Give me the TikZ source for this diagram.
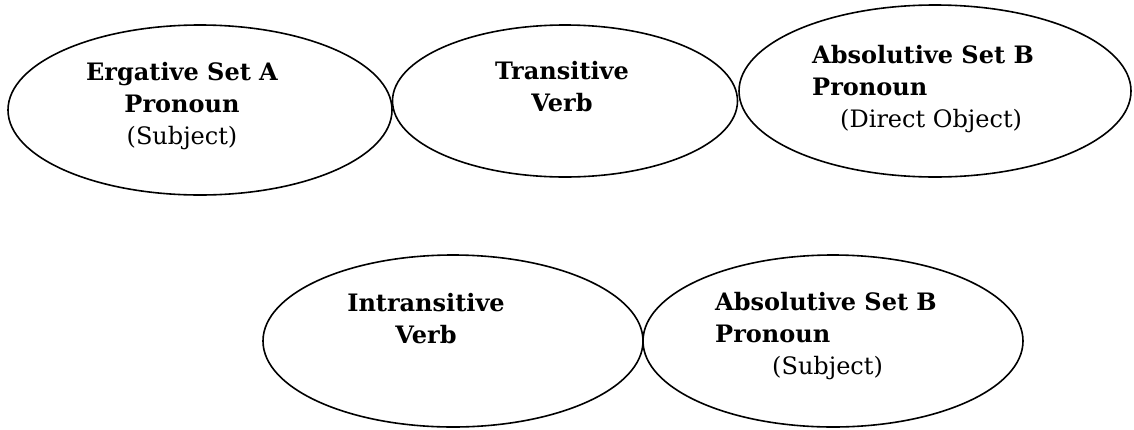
\documentclass[tikz,border=0pt]{standalone}
\usepackage{fontspec}
\setmainfont{DejaVu Serif}
\usepackage{tikz}
\usetikzlibrary{shapes.geometric}

\begin{document}
\begin{tikzpicture}[x=1pt, y=-1pt,
    Oval/.style={ellipse, draw, line width=1.6pt, inner sep=0pt},
    Label/.style={inner sep=0pt, anchor=base, font=\fontsize{24}{32}\selectfont}]
\useasboundingbox (0,0) rectangle (1134,429);
% transitive clause
\node[Oval, minimum width=384, minimum height=170] (ergA) at (200,110) {};
\node[Oval, minimum width=345, minimum height=152] (transV) at (565,101) {};
\node[Oval, minimum width=392, minimum height=172] (absB) at (935,91) {};
\node[Label, align=center] (ergAtxt) at (182,144)
    {\bfseries Ergative Set A\\\bfseries Pronoun\\(Subject)};
\node[Label, align=center] (transVtxt) at (562,111)
    {\bfseries Transitive\\\bfseries Verb};
\node[Label, align=left, anchor=base west] (absBtxt) at (812,127)
    {\bfseries Absolutive Set B\\\bfseries Pronoun\\\hspace*{28pt}(Direct Object)};
% intransitive clause
\node[Oval, minimum width=380, minimum height=172] (intrV) at (453,341) {};
\node[Oval, minimum width=380, minimum height=172] (absS) at (833,341) {};
\node[Label, align=center] (intrVtxt) at (426,343)
    {\bfseries Intransitive\\\bfseries Verb};
\node[Label, align=left, anchor=base west] (absStxt) at (715,374)
    {\bfseries Absolutive Set B\\\bfseries Pronoun\\\hspace*{57pt}(Subject)};
\end{tikzpicture}
\end{document}
